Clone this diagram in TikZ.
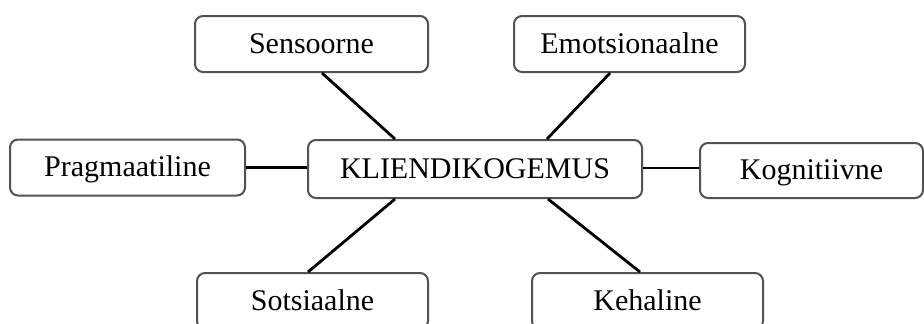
\documentclass[tikz,border=0pt]{standalone}
\usepackage{fontspec}
\setmainfont{Liberation Serif}
\begin{document}
\begin{tikzpicture}[x=1pt,y=-1pt,
  facet/.style={draw=black!68,line width=2pt,rounded corners=8pt,fill=white,
    inner sep=0pt,text height=21pt,text depth=3pt,
    font=\fontsize{30}{36}\selectfont,text=black},
  link/.style={draw=black,line width=2.8pt}]
  \useasboundingbox[fill=white] (0,0) rectangle (924,324);

  % central concept
  \node[facet,minimum width=334pt,minimum height=58pt] (kl) at (475,169) {KLIENDIKOGEMUS};

  % surrounding dimensions
  \node[facet,minimum width=233pt,minimum height=56pt] (sens) at (311.5,44) {Sensoorne};
  \node[facet,minimum width=231pt,minimum height=56pt] (emo)  at (629.5,44) {Emotsionaalne};
  \node[facet,minimum width=235pt,minimum height=56pt] (prag) at (127.5,167.5) {Pragmaatiline};
  \node[facet,minimum width=223pt,minimum height=55pt] (kog)  at (811.5,170.5) {Kognitiivne};
  \node[facet,minimum width=231pt,minimum height=56pt] (sots) at (312.5,301) {Sotsiaalne};
  \node[facet,minimum width=231pt,minimum height=56pt] (keh)  at (647.5,301) {Kehaline};

  % connectors
  \draw[link] ([xshift=10.5pt]sens.south) -- ([xshift=-80pt]kl.north);
  \draw[link] ([xshift=-19.5pt]emo.south) -- ([xshift=72pt]kl.north);
  \draw[link] (prag.east) -- (prag.east -| kl.west);
  \draw[link] ([yshift=1pt]kl.east) -- ([yshift=1pt]kl.east -| kog.west);
  \draw[link] ([xshift=-80pt]kl.south) -- ([xshift=-4.5pt]sots.north);
  \draw[link] ([xshift=73pt]kl.south) -- ([xshift=-7.5pt]keh.north);
\end{tikzpicture}
\end{document}
